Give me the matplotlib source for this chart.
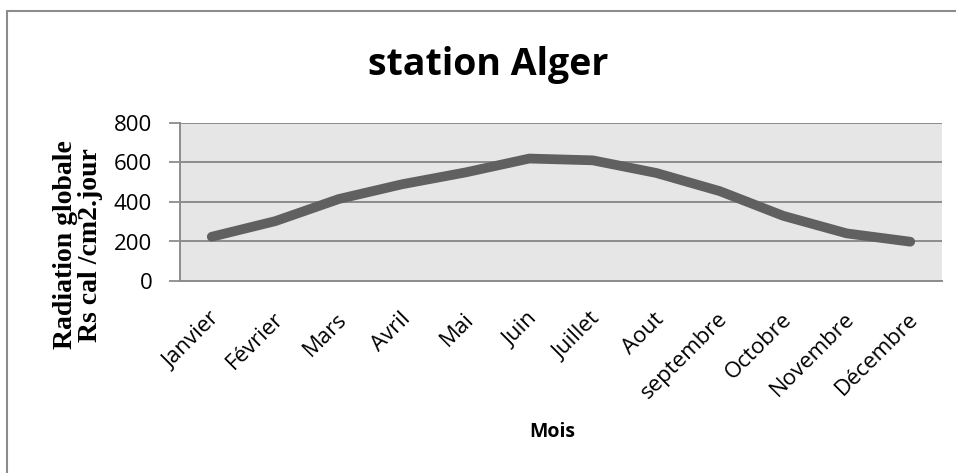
import matplotlib
matplotlib.use("Agg")
import matplotlib.pyplot as plt
from matplotlib.patches import Rectangle
from matplotlib.transforms import ScaledTranslation

months = ["Janvier", "Février", "Mars", "Avril", "Mai", "Juin", "Juillet",
          "Aout", "septembre", "Octobre", "Novembre", "Décembre"]
radiation = [224, 303, 415, 490, 550, 620, 611, 547, 455, 330, 241, 199]
yticks = [0, 200, 400, 600, 800]

plt.rcParams['font.family'] = ['Open Sans', 'DejaVu Sans']

W, H = 956, 473
fig = plt.figure(figsize=(W / 100, H / 100), dpi=100)
fig.patches.append(Rectangle((7 / W, -0.05), 1.0, 1 - 11 / H + 0.05,
                             transform=fig.transFigure, fill=False,
                             edgecolor="#8c8c8c", linewidth=1.5))

ax = fig.add_axes([180 / W, 1 - 281 / H, 762 / W, 158 / H])
ax.set_facecolor("#e6e6e6")
x = list(range(len(months)))
ax.plot(x, radiation, color="#606060", linewidth=7, solid_capstyle="round",
        solid_joinstyle="round", zorder=3)
ax.set_xlim(-0.5, len(months) - 0.5)
ax.set_ylim(0, 800)
ax.set_yticks(yticks)
ax.set_yticklabels([str(v) for v in yticks], fontsize=16)
ax.set_xticks(x)
ax.set_xticklabels(months, rotation=45, ha="right", va="center",
                   rotation_mode="anchor", fontsize=16)
ax.tick_params(axis="x", length=0, pad=0)
ax.tick_params(axis="y", length=8, color="#8c8c8c", width=1.3, pad=12)
off = ScaledTranslation(5 / 100, -35 / 100, fig.dpi_scale_trans)
for lbl in ax.get_xticklabels():
    lbl.set_transform(lbl.get_transform() + off)
ax.yaxis.grid(True, color="#8c8c8c", linewidth=1.4)
ax.set_axisbelow(True)
for s in ["top", "right"]:
    ax.spines[s].set_visible(False)
for s in ["left", "bottom"]:
    ax.spines[s].set_color("#8c8c8c")
    ax.spines[s].set_linewidth(1.4)

fig.text(488 / W, 1 - 75 / H, "station Alger", ha="center", va="baseline",
         fontsize=27, fontweight="bold")
fig.text(552 / W, 1 - 432 / H, "Mois", ha="center", va="center",
         fontsize=14, fontweight="bold")
fig.text(78 / W, 1 - 245 / H, "Radiation globale\nRs cal /cm2.jour",
         ha="center", va="center", rotation=90, fontsize=20,
         fontweight="bold", family="Liberation Serif", linespacing=1.0)

fig.savefig("out.png", dpi=100)
